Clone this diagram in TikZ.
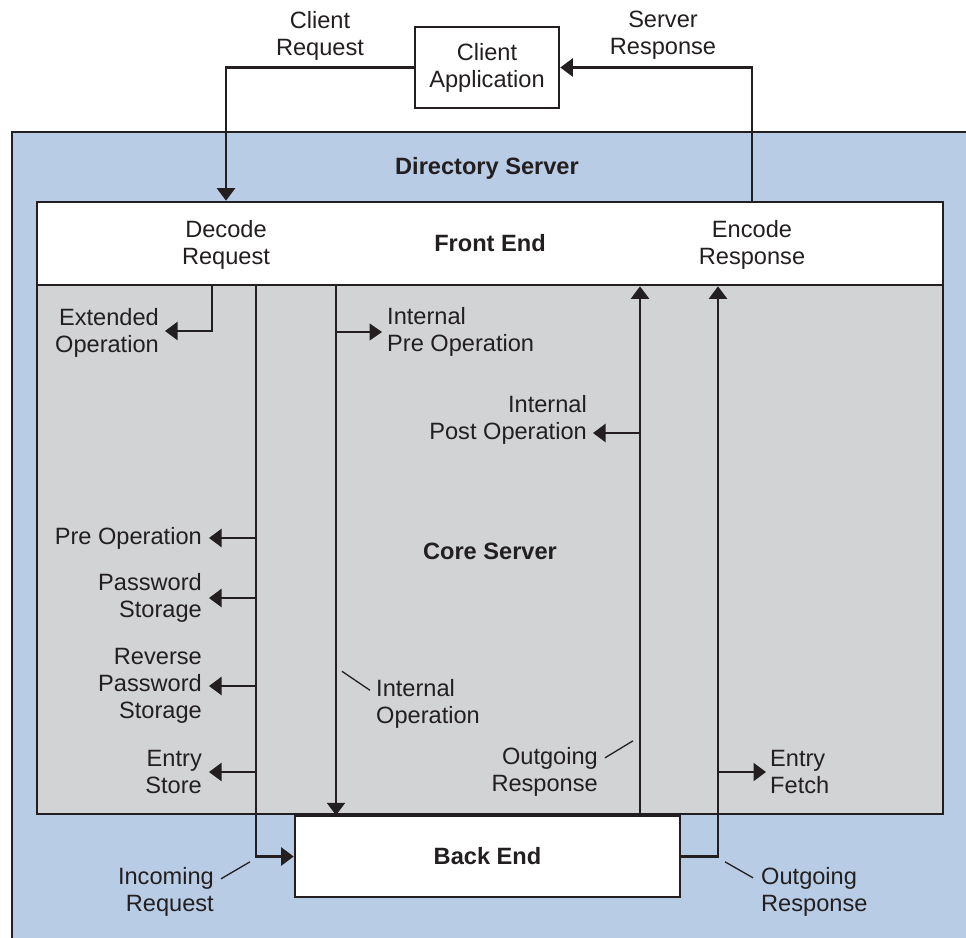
\documentclass[tikz,border=0pt]{standalone}
\usepackage{fontspec}
\setmainfont{Liberation Sans}
\usetikzlibrary{arrows.meta}

\definecolor{dsblue}{HTML}{B8CCE5}
\definecolor{coregray}{HTML}{D1D3D5}
\definecolor{ink}{HTML}{231F20}

\begin{document}
\begin{tikzpicture}[x=1pt,y=-1pt,
  txt/.style={font=\fontsize{23.6}{27}\selectfont, text=ink, inner sep=0pt, align=center},
  bold/.style={txt, font=\fontsize{23.6}{27}\selectfont\bfseries},
  lbl/.style={txt, yshift=-2pt},
  box/.style={draw=ink, line width=2.6pt},
  flow/.style={draw=ink, line width=2.2pt, -{Triangle[length=12.5pt,width=18pt]}},
  thinflow/.style={draw=ink, line width=1.3pt, -{Triangle[length=12.5pt,width=17pt]}},
  lead/.style={draw=ink, line width=1.3pt},
  ltag/.style={lbl, align=right, anchor=east, inner xsep=7pt},
  rtag/.style={lbl, align=left, anchor=west, inner xsep=5pt},
]
\useasboundingbox (0,0) rectangle (966,937);
\clip (0,0) rectangle (966,937);

% directory server area
\path[fill=dsblue, draw=ink, line width=2.8pt] (12,132) rectangle (1000,1000);
\node[bold, yshift=-2pt] (ds) at (487,166) {Directory Server};

% main boxes
\node[box, fill=coregray, minimum width=906, minimum height=529] (core) at (490,549.5) {};
\node[bold, yshift=-2pt] (coretitle) at (core.center) {Core Server};
\node[box, fill=white, minimum width=906, minimum height=83, bold] (fe) at (490,243.5) {Front End};
\node[box, fill=white, minimum width=385, minimum height=81, bold] (be) at (487.5,856.5) {Back End};
\node[box, fill=white, minimum width=144, minimum height=81, txt] (app) at (487,67.5) {Client\\Application};

% front end labels
\node[lbl] (dec) at (226,242.5) {Decode\\Request};
\node[lbl] (enc) at (752,242.5) {Encode\\Response};
\node[lbl] (creq) at (320,33.5) {Client\\Request};
\node[lbl] (sresp) at (663,33.5) {Server\\Response};

% vertical bus positions
\coordinate (xA) at (212,0);
\coordinate (xB) at (256,0);
\coordinate (xC) at (336,0);
\coordinate (xD) at (640,0);
\coordinate (xE) at (718,0);

% plug-in labels
\node[ltag, inner xsep=6pt] (extop) at (165,331) {Extended\\Operation};
\node[rtag] (ipre) at (382,330) {Internal\\Pre Operation};
\node[ltag] (preop) at (209,536) {Pre Operation};
\node[ltag] (pwd) at (209,596) {Password\\Storage};
\node[ltag] (rpwd) at (209,684) {Reverse\\Password\\Storage};
\node[ltag] (estore) at (209,770) {Entry\\Store};
\node[rtag, inner xsep=4pt] (efetch) at (766,770) {Entry\\Fetch};
\node[ltag, inner xsep=6pt] (ipost) at (593,418) {Internal\\Post Operation};
\coordinate (ipostTip) at (593,433);
\node[lbl, align=left, anchor=west] (iop) at (376,702) {Internal\\Operation};
\node[lbl, align=right, anchor=east] (oresp1) at (598,770) {Outgoing\\Response};
\node[lbl, align=right, anchor=east] (inreq) at (214,890) {Incoming\\Request};
\node[lbl, align=left, anchor=west] (oresp2) at (761,890) {Outgoing\\Response};

% client traffic
\draw[flow] (app.west) -| (fe.north -| dec);
\draw[flow] (fe.north -| enc) |- (app.east);

% request path
\draw[flow] (fe.south -| xA) |- ([yshift=2pt]extop.east);
\draw[flow] (fe.south -| xB) |- (be.west);
\draw[flow] (xB |- preop.east) -- (preop.east);
\draw[flow] (xB |- pwd.east) -- (pwd.east);
\draw[flow] (xB |- rpwd.east) -- (rpwd.east);
\draw[flow] (xB |- estore.east) -- (estore.east);

% internal operations
\draw[flow] (fe.south -| xC) -- (core.south -| xC);
\draw[thinflow] (xC |- ipre.west) -- (ipre.west);

% response path
\draw[flow] (core.south -| xD) -- (fe.south -| xD);
\draw[flow] (xD |- ipostTip) -- (ipostTip);
\draw[flow] (be.east) -| (fe.south -| xE);
\draw[flow] (xE |- efetch.west) -- (efetch.west);

% leader lines
\draw[lead] ([shift={(-6,11)}]iop.north west) -- ([shift={(-34,-8)}]iop.north west);
\draw[lead] ([shift={(7,10.5)}]oresp1.north east) -- ([shift={(35,-6.5)}]oresp1.north east);
\draw[lead] ([shift={(7,11.5)}]inreq.north east) -- ([shift={(36,-5.5)}]inreq.north east);
\draw[lead] ([shift={(-8,10.5)}]oresp2.north west) -- ([shift={(-36,-5.5)}]oresp2.north west);
\end{tikzpicture}
\end{document}
